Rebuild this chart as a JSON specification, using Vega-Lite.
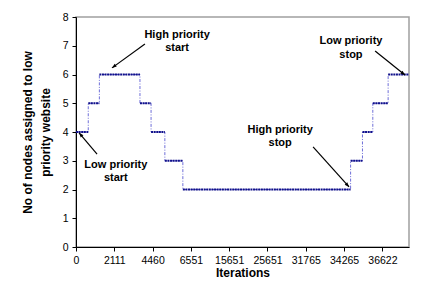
{
  "$schema": "https://vega.github.io/schema/vega-lite/v6.json",
  "width": 333,
  "height": 230,
  "autosize": {"type": "none"},
  "padding": {"left": 76, "top": 17, "right": 18, "bottom": 40},
  "background": "white",
  "config": {
    "font": "Liberation Sans",
    "view": {"stroke": "#a0a0a0", "strokeWidth": 1.5},
    "axis": {"grid": false, "domainColor": "black", "tickColor": "black", "labelColor": "black", "titleColor": "black", "labelFontSize": 10.5, "titleFontSize": 12, "titleFontWeight": "bold", "tickSize": 4, "domainWidth": 1, "labelOverlap": false}
  },
  "datasets": {
    "steps": [
      {"x": 0, "xe": 0.32, "y": 4},
      {"x": 0.32, "xe": 0.61, "y": 5},
      {"x": 0.61, "xe": 1.67, "y": 6},
      {"x": 1.67, "xe": 1.96, "y": 5},
      {"x": 1.96, "xe": 2.32, "y": 4},
      {"x": 2.32, "xe": 2.79, "y": 3},
      {"x": 2.79, "xe": 7.17, "y": 2},
      {"x": 7.17, "xe": 7.48, "y": 3},
      {"x": 7.48, "xe": 7.75, "y": 4},
      {"x": 7.75, "xe": 8.15, "y": 5},
      {"x": 8.15, "xe": 8.695, "y": 6}
    ],
    "labels": [
      {"text": "Low priority\nstart", "x": 1.04, "y": 2.85},
      {"text": "High priority\nstart", "x": 2.64, "y": 7.375},
      {"text": "High priority\nstop", "x": 5.33, "y": 4.07},
      {"text": "Low priority\nstop", "x": 7.18, "y": 7.16}
    ],
    "arrows": [
      {"name": "lps", "x": 0.08, "y": 3.97, "tailx": 0.55, "taily": 3.23},
      {"name": "hps", "x": 0.94, "y": 6.23, "tailx": 1.8, "taily": 7.06},
      {"name": "hpe", "x": 7.13, "y": 2.09, "tailx": 6.19, "taily": 3.48},
      {"name": "lpe", "x": 8.59, "y": 5.98, "tailx": 7.81, "taily": 6.82}
    ]
  },
  "encoding": {
    "x": {"field": "x", "type": "quantitative", "scale": {"domain": [0, 8.695], "nice": false, "zero": false},
      "axis": {"values": [0, 1, 2, 3, 4, 5, 6, 7, 8], "title": "Iterations", "labelPadding": 4, "titlePadding": 2,
        "labelExpr": "['0','2111','4460','6551','15651','25651','31765','34265','36622'][datum.value]",
        "labelFlush": false, "labelOverlap": false,
        "encode": {"ticks": {"update": {"opacity": {"signal": "datum.value % 2 === 0 ? 1 : 0"}}}}}},
    "y": {"field": "y", "type": "quantitative", "scale": {"domain": [0, 8], "nice": false},
      "axis": {"values": [0, 1, 2, 3, 4, 5, 6, 7, 8], "labelOverlap": false, "labelSeparation": 0, "labelBound": false, "labelFlush": false, "title": ["No of nodes assigned to low", "priority website"], "labelPadding": 4, "titlePadding": 10, "titleLineHeight": 18}}
  },
  "layer": [
    {
      "data": {"name": "steps"},
      "mark": {"type": "line", "interpolate": "step-after", "color": "#6f6fd8", "strokeWidth": 1, "strokeDash": [3, 1.5, 1, 1.5]}
    },
    {
      "data": {"name": "steps"},
      "mark": {"type": "rule", "color": "#10108a", "strokeWidth": 2, "strokeDash": [2, 0.6]},
      "encoding": {"x2": {"field": "xe"}}
    },
    {
      "data": {"name": "labels"},
      "mark": {"type": "text", "fontWeight": "bold", "fontSize": 11, "lineBreak": "\n", "lineHeight": 13.4, "align": "center", "baseline": "middle", "color": "black"},
      "encoding": {"text": {"field": "text"}}
    },
    {
      "data": {"name": "arrows"},
      "mark": {"type": "rule", "color": "black", "strokeWidth": 1.2},
      "encoding": {"x2": {"field": "tailx"}, "y2": {"field": "taily"}}
    },
    {
      "data": {"name": "arrows"},
      "transform": [{"filter": "datum.name === 'lps'"}],
      "mark": {"type": "point", "shape": "M0,0L-0.5,1.3L0.5,1.3Z", "filled": true, "color": "black", "opacity": 1, "size": 50, "angle": 319}
    },
    {
      "data": {"name": "arrows"},
      "transform": [{"filter": "datum.name === 'hps'"}],
      "mark": {"type": "point", "shape": "M0,0L-0.5,1.3L0.5,1.3Z", "filled": true, "color": "black", "opacity": 1, "size": 50, "angle": 234}
    },
    {
      "data": {"name": "arrows"},
      "transform": [{"filter": "datum.name === 'hpe'"}],
      "mark": {"type": "point", "shape": "M0,0L-0.5,1.3L0.5,1.3Z", "filled": true, "color": "black", "opacity": 1, "size": 50, "angle": 138}
    },
    {
      "data": {"name": "arrows"},
      "transform": [{"filter": "datum.name === 'lpe'"}],
      "mark": {"type": "point", "shape": "M0,0L-0.5,1.3L0.5,1.3Z", "filled": true, "color": "black", "opacity": 1, "size": 50, "angle": 129}
    }
  ]
}
